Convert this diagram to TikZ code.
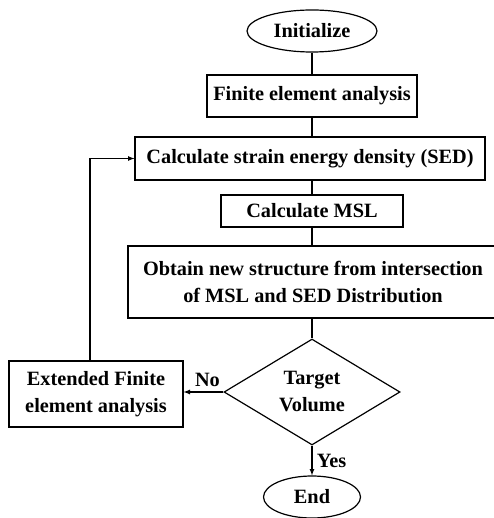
\documentclass[tikz,border=0pt]{standalone}
\usepackage{fontspec}
\setmainfont{Liberation Serif}
\usepackage{tikz}
\usetikzlibrary{arrows,shapes,positioning,calc}
\tikzset{every node/.append style={font=\bfseries\fontsize{20.3}{27}\selectfont}}

\begin{document}
\begin{tikzpicture}[x=1pt,y=-1pt,line width=1.2pt,
    term/.style={draw, ellipse, inner sep=0pt, minimum height=42pt},
    stepbox/.style={draw, rectangle, align=center, inner sep=0pt},
    decide/.style={draw, diamond, aspect=1.66, inner sep=0pt, align=center, minimum width=176pt, minimum height=106pt}]
      \useasboundingbox (0,0) rectangle (493,518);

      \node[term, minimum width=130pt] (init) at (312,31) {Initialize};
      \node[stepbox, minimum width=210pt, minimum height=42pt] (fea) at (312,96) {Finite element analysis};
      \node[stepbox, minimum width=350pt, minimum height=43pt] (sed) at (310,158.5) {Calculate strain energy density (SED)};
      \node[stepbox, minimum width=182pt, minimum height=32pt] (msl) at (312,211) {Calculate MSL};
      \node[stepbox, minimum width=370pt, minimum height=72pt] (obt) at (313,282) {Obtain new structure from intersection\\of MSL and SED Distribution};
      \node[decide] (tv) at (312,392) {Target\\Volume};
      \node[stepbox, minimum width=174pt, minimum height=66pt] (xfea) at (96,394) {Extended Finite\\element analysis};
      \node[term, minimum width=97pt] (endn) at (312,497) {End};

      \draw (init) -- (fea);
      \draw (fea) -- (fea |- sed.north);
      \draw (sed.south -| msl) -- (msl);
      \draw (msl) -- (msl |- obt.north);
      \draw (obt.south -| tv) -- (tv);

      \draw[-latex] (tv.west) -- (xfea.east |- tv.west) node[pos=0.4, above=1pt] (no) {No};
      \draw[-latex] (tv.south) -- (endn.north) node[midway, right=1pt] (yes) {Yes};
      \draw[-latex] ([xshift=-6pt]xfea.north) |- (sed.west);
    \end{tikzpicture}
\end{document}
